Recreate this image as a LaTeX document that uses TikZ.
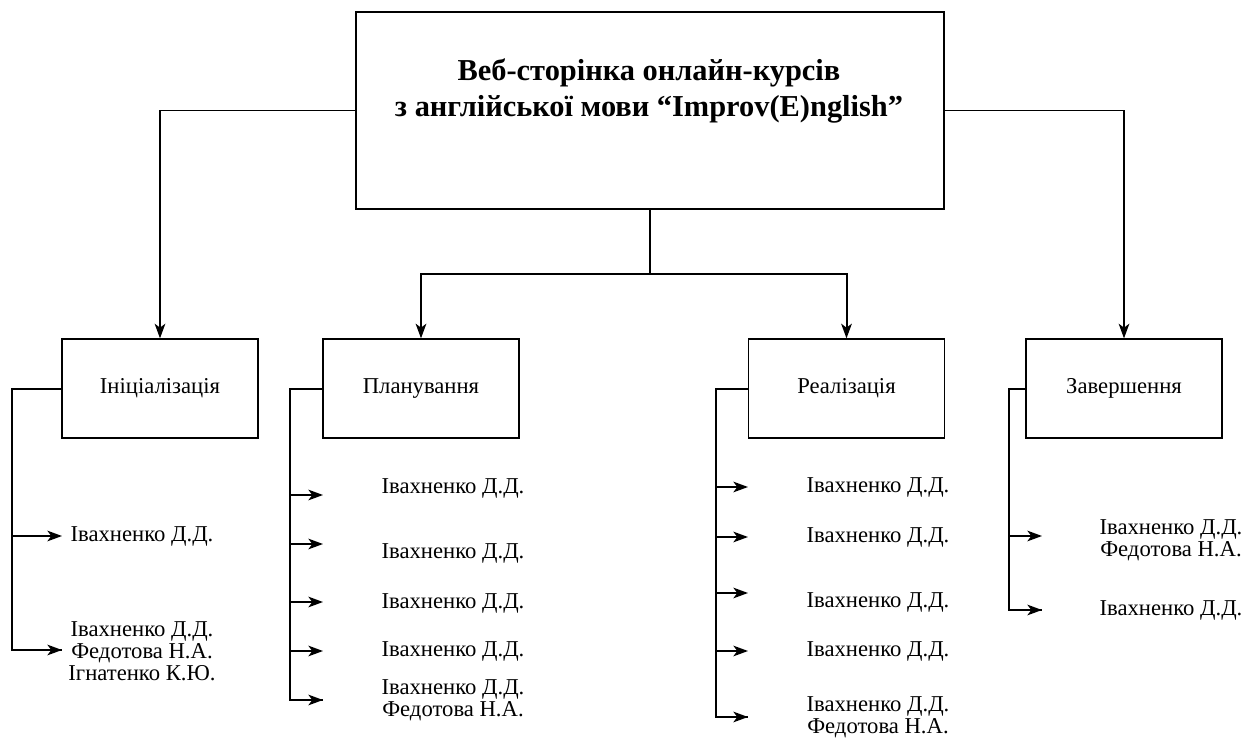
\documentclass[tikz,border=0pt]{standalone}
\usepackage{fontspec}
\setmainfont{Liberation Serif}
\usetikzlibrary{arrows.meta}

\begin{document}
\begin{tikzpicture}[x=0.75pt,y=-0.75pt,box/.style={draw,line width=1.2pt,minimum width=147pt,minimum height=74pt,font=\fontsize{17}{17}\selectfont},head/.style={align=center,font=\bfseries\fontsize{22.8}{26.5}\selectfont},person/.style={align=center,font=\fontsize{17}{16.5}\selectfont},line/.style={line width=1.5pt},arr/.style={line width=1.2pt,-{Stealth[length=11pt,width=8pt,inset=3pt]}}]
\useasboundingbox (0,0) rectangle (1253,738);
% top box
\node[draw,line width=1.2pt,minimum width=441pt,minimum height=148pt] (t) at (650,110.5) {};
\node[head] (tt) at (649,91) {Веб-сторінка онлайн-курсів\\з англійської мови “Improv(E)nglish”};
% phases
\node[box] (i) at (160,388.5) {Ініціалізація};
\node[box] (p) at (421,388.5) {Планування};
\node[box] (r) at (846.5,388.5) {Реалізація};
\node[box] (z) at (1124,388.5) {Завершення};
\draw[arr] (t.west) -| (i.north);\draw[arr] (t.east) -| (z.north);
\draw[arr,line width=1.5pt] (t.south) -- ++(0,64) coordinate (fork) -| (p.north);\draw[arr,line width=1.5pt] (fork) -| (r.north);
% Ініціалізація
\coordinate (i1) at (62,536);\coordinate (i2) at (62,650);
\node[person] (ni1) at (142,536) {Івахненко Д.Д.};
\node[person] (ni2) at (142,651) {Івахненко Д.Д.\\Федотова Н.А.\\Ігнатенко К.Ю.};
\draw[line] (i.west) -- ++(-49,0) coordinate (ri) |- (i2);\draw[arr] (ri |- i2) -- (i2);\draw[arr] (ri |- i1) -- (i1);
% Планування
\coordinate (p1) at (323,495);\coordinate (p2) at (323,544);\coordinate (p3) at (323,602);\coordinate (p4) at (323,651);\coordinate (p5) at (323,700);
\node[person] (np1) at (453,488) {Івахненко Д.Д.};
\node[person] (np2) at (453,553) {Івахненко Д.Д.};
\node[person] (np3) at (453,603) {Івахненко Д.Д.};
\node[person] (np4) at (453,651) {Івахненко Д.Д.};
\node[person] (np5) at (453,700) {Івахненко Д.Д.\\Федотова Н.А.};
\draw[line] (p.west) -- ++(-32,0) coordinate (rp) |- (p5);
\draw[arr] (rp |- p1) -- (p1);\draw[arr] (rp |- p2) -- (p2);\draw[arr] (rp |- p3) -- (p3);\draw[arr] (rp |- p4) -- (p4);\draw[arr] (rp |- p5) -- (p5);
% Реалізація
\coordinate (r1) at (748,487);\coordinate (r2) at (748,537);\coordinate (r3) at (748,593);\coordinate (r4) at (748,651);\coordinate (r5) at (748,717);
\node[person] (nr1) at (878,487) {Івахненко Д.Д.};
\node[person] (nr2) at (878,537) {Івахненко Д.Д.};
\node[person] (nr3) at (878,602) {Івахненко Д.Д.};
\node[person] (nr4) at (878,651) {Івахненко Д.Д.};
\node[person] (nr5) at (878,717) {Івахненко Д.Д.\\Федотова Н.А.};
\draw[line] (r.west) -- ++(-32,0) coordinate (rr) |- (r5);
\draw[arr] (rr |- r1) -- (r1);\draw[arr] (rr |- r2) -- (r2);\draw[arr] (rr |- r3) -- (r3);\draw[arr] (rr |- r4) -- (r4);\draw[arr] (rr |- r5) -- (r5);
% Завершення
\coordinate (z1) at (1042,536);\coordinate (z2) at (1042,610);
\node[person] (nz1) at (1171,540) {Івахненко Д.Д.\\Федотова Н.А.};
\node[person] (nz2) at (1171,610) {Івахненко Д.Д.};
\draw[line] (z.west) -- ++(-16,0) coordinate (rz) |- (z2);
\draw[arr] (rz |- z1) -- (z1);\draw[arr] (rz |- z2) -- (z2);
\end{tikzpicture}
\end{document}
